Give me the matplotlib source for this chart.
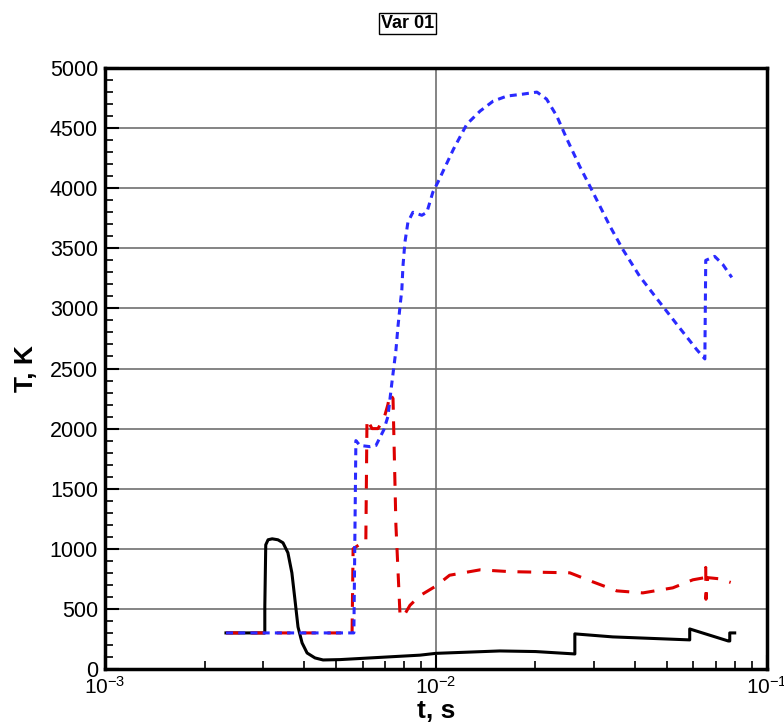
import matplotlib.pyplot as plt
import numpy as np
from matplotlib.ticker import LogLocator, MultipleLocator, FuncFormatter

plt.rcParams['font.family'] = ['Liberation Sans', 'DejaVu Sans']
plt.rcParams['mathtext.fontset'] = 'custom'
plt.rcParams['mathtext.rm'] = 'Liberation Sans'

# black solid curve
t_black = [2.32e-3, 3.04e-3, 3.04e-3, 3.06e-3, 3.11e-3, 3.20e-3, 3.33e-3, 3.45e-3, 3.57e-3,
           3.67e-3, 3.75e-3, 3.83e-3, 3.94e-3, 4.08e-3, 4.31e-3, 4.56e-3, 5.13e-3, 8.95e-3,
           1.0e-2, 1.56e-2, 2.0e-2, 2.63e-2, 2.63e-2, 3.42e-2, 5.85e-2, 5.85e-2, 7.65e-2,
           7.73e-2, 7.73e-2, 8.0e-2]
T_black = [300, 300, 520, 1033, 1075, 1083, 1075, 1050, 967,
           800, 575, 350, 217, 133, 92, 75, 78, 115,
           130, 150, 145, 125, 292, 267, 242, 333, 233,
           233, 300, 300]

# red long-dashed curve
t_red = [2.32e-3, 5.58e-3, 5.62e-3, 5.98e-3, 6.14e-3, 6.19e-3, 6.41e-3, 6.68e-3, 6.96e-3,
         7.16e-3, 7.26e-3, 7.42e-3, 7.57e-3, 7.79e-3, 7.95e-3, 8.35e-3, 8.95e-3, 1.0e-2,
         1.10e-2, 1.36e-2, 1.67e-2, 2.54e-2, 2.98e-2, 3.52e-2, 4.22e-2, 5.20e-2, 5.98e-2,
         6.50e-2, 6.54e-2, 6.55e-2, 6.63e-2, 7.21e-2, 7.78e-2]
T_red = [300, 300, 1000, 1050, 1050, 2080, 2000, 2000, 2080,
         2200, 2290, 2250, 1200, 450, 430, 530, 610, 690,
         780, 825, 810, 800, 725, 650, 633, 675, 742,
         760, 845, 580, 760, 750, 720]

# blue short-dashed curve
t_blue = [2.32e-3, 5.65e-3, 5.73e-3, 5.89e-3, 6.32e-3, 6.59e-3, 6.96e-3, 7.16e-3, 7.36e-3,
          7.57e-3, 7.68e-3, 7.79e-3, 7.89e-3, 7.95e-3, 8.06e-3, 8.23e-3, 8.52e-3, 9.07e-3,
          9.39e-3, 9.79e-3, 1.014e-2, 1.065e-2, 1.13e-2, 1.24e-2, 1.36e-2, 1.49e-2, 1.64e-2,
          1.83e-2, 2.02e-2, 2.16e-2, 2.32e-2, 2.49e-2, 2.72e-2, 2.92e-2, 3.36e-2, 3.67e-2,
          4.13e-2, 4.75e-2, 5.35e-2, 6.14e-2, 6.50e-2, 6.54e-2, 6.96e-2, 7.36e-2, 7.84e-2]
T_blue = [300, 300, 1900, 1860, 1850, 1860, 1990, 2100, 2380,
          2650, 2850, 3017, 3158, 3350, 3550, 3717, 3800, 3775,
          3800, 3967, 4050, 4175, 4325, 4533, 4642, 4725, 4767,
          4783, 4800, 4742, 4600, 4408, 4183, 4017, 3683, 3492,
          3267, 3050, 2867, 2658, 2580, 3400, 3433, 3367, 3258]

fig = plt.figure(figsize=(7.84, 7.24), dpi=100)
ax = fig.add_axes([0.134, 0.076, 0.844, 0.830])

ax.plot(t_black, T_black, color='black', lw=2.2, zorder=3)
ax.plot(t_red, T_red, color='#dd0000', lw=2.2, dashes=(4.5, 3.8), zorder=4)
ax.plot(t_blue, T_blue, color='#2a2aff', lw=2.2, dashes=(2.3, 1.7), zorder=5)

ax.set_xscale('log')
ax.set_xlim(1e-3, 1e-1)
ax.set_ylim(0, 5000)

ax.yaxis.set_major_locator(MultipleLocator(500))
ax.yaxis.set_minor_locator(MultipleLocator(100))
ax.xaxis.set_major_locator(LogLocator(base=10))
ax.xaxis.set_minor_locator(LogLocator(base=10, subs=np.arange(2, 10)))
ax.xaxis.set_minor_formatter(FuncFormatter(lambda v, p: ''))
ax.xaxis.set_major_formatter(FuncFormatter(
    lambda v, p: r'$\mathregular{10^{%d}}$' % round(np.log10(v))))

ax.grid(True, which='major', color='#707070', lw=1.2)
ax.tick_params(which='both', direction='in', top=False, right=False)
ax.tick_params(axis='y', labelsize=15.5, pad=5)
ax.tick_params(axis='x', labelsize=15, pad=5)
ax.tick_params(which='major', length=10, width=1.5)
ax.tick_params(which='minor', length=6, width=1.2)
for s in ax.spines.values():
    s.set_linewidth(2.5)

ax.set_xlabel('t, s', fontsize=19, fontweight='bold')
ax.set_ylabel('T, K', fontsize=19, fontweight='bold')
ax.xaxis.set_label_coords(0.5, -0.05)
ax.yaxis.set_label_coords(-0.102, 0.5)

fig.text(0.52, 0.968, 'Var 01', fontsize=13, fontweight='bold', ha='center', va='center',
         bbox=dict(boxstyle='square,pad=0.12', facecolor='white', edgecolor='black', lw=1))

fig.savefig('out.png', dpi=100)
